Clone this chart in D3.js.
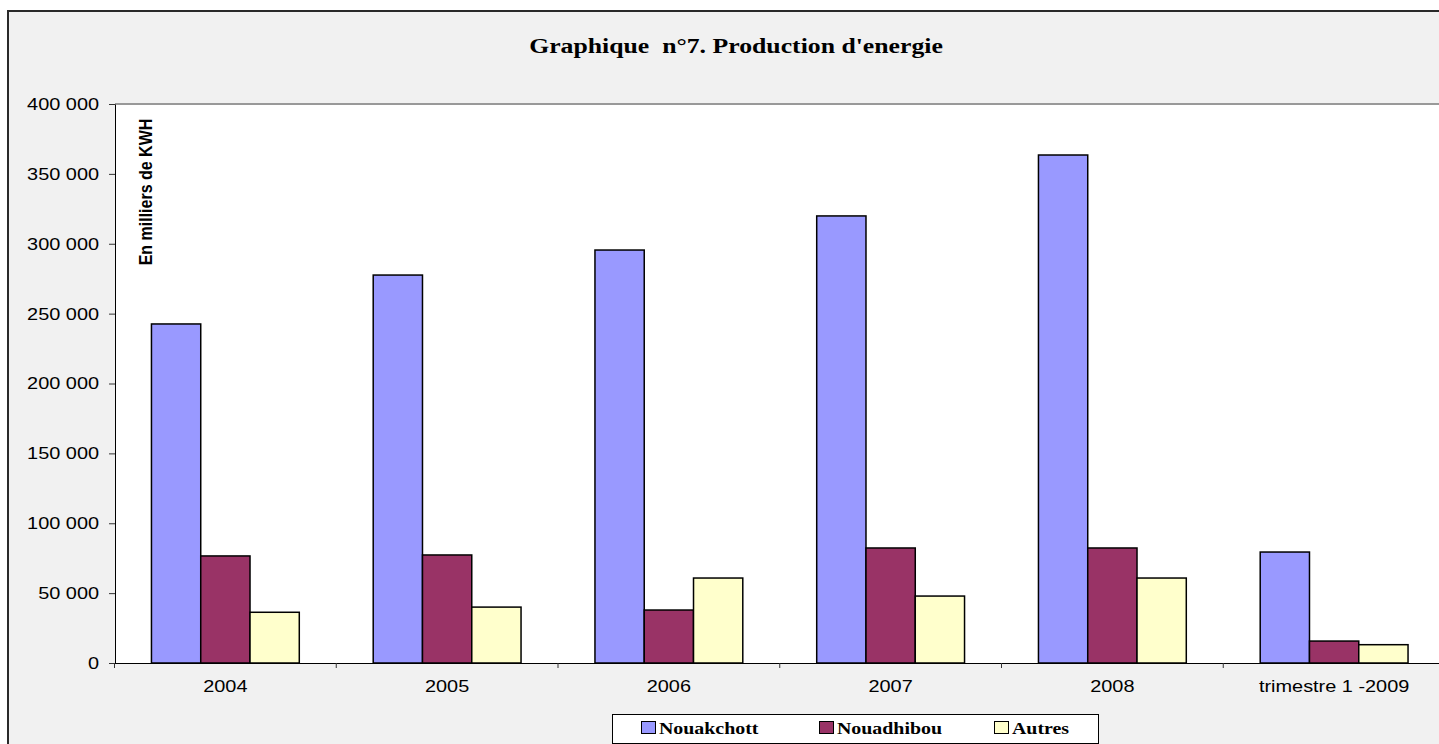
<!DOCTYPE html>
<html lang="fr">
<head>
<meta charset="utf-8">
<title>Production d'energie</title>
<script src="https://d3js.org/d3.v7.min.js"></script>
<style>
  body { margin: 0; background: #fff; }
  .bar { stroke: #000; stroke-width: 1.5px; }
  .sans { font-family: "Liberation Sans", Arial, sans-serif; fill: #000; }
  .serif { font-family: "Liberation Serif", "Times New Roman", serif; font-weight: bold; fill: #000; white-space: pre; }
</style>
</head>
<body>
<svg width="1439" height="744"></svg>
<script>

var categories = ["2004", "2005", "2006", "2007", "2008", "trimestre 1 -2009"];
var series = ["Nouakchott", "Nouadhibou", "Autres"];
var nouakchott = [242600, 277600, 295500, 319900, 363500, 79400];
var nouadhibou = [76600, 77300, 37900, 82300, 82300, 15700];
var autres = [36300, 40000, 60800, 47900, 60800, 13100];
var yTicks = [0, 50000, 100000, 150000, 200000, 250000, 300000, 350000, 400000];

var colors = {"Nouakchott": "#9999ff", "Nouadhibou": "#993366", "Autres": "#ffffcc"};
var values = {"Nouakchott": nouakchott, "Nouadhibou": nouadhibou, "Autres": autres};

// the source picture is stretched a bit horizontally, text included
var SX = 1.17;

var svg = d3.select("svg");

// page background and outer frame
svg.append("rect").attr("x", 8).attr("y", 11).attr("width", 1440).attr("height", 740)
    .attr("fill", "#f1f1f1").attr("stroke", "#2a2a2a").attr("stroke-width", 2);

var plotLeft = 115, plotTop = 104, plotBottom = 663, plotRight = 1445;

// plot area
svg.append("rect").attr("x", plotLeft).attr("y", plotTop)
    .attr("width", plotRight - plotLeft).attr("height", plotBottom - plotTop)
    .attr("fill", "#fff");
svg.append("line").attr("x1", plotLeft).attr("x2", plotRight).attr("y1", plotTop).attr("y2", plotTop)
    .attr("stroke", "#999").attr("stroke-width", 2);

var x0 = d3.scaleBand().domain(categories).range([plotLeft - 0.5, plotRight]);
var bw = x0.bandwidth() / 4.5;   // gap width 150%
var x1 = d3.scaleBand().domain(series).range([bw * 0.75, x0.bandwidth() - bw * 0.75]);
var y = d3.scaleLinear().domain([0, 400000]).range([plotBottom, plotTop]);

var fr = d3.formatLocale({decimal: ",", thousands: " ", grouping: [3], currency: ["", ""]});
var fmt = fr.format(",");

// bars
var groups = svg.append("g").selectAll("g")
  .data(categories)
  .join("g")
    .attr("transform", d => `translate(${x0(d)},0)`);

groups.selectAll("rect")
  .data((c, i) => series.map(s => ({s: s, v: values[s][i]})))
  .join("rect")
    .attr("class", "bar")
    .attr("x", d => x1(d.s))
    .attr("width", x1.bandwidth())
    .attr("y", d => y(d.v))
    .attr("height", d => plotBottom - y(d.v))
    .attr("fill", d => colors[d.s]);

// y axis
var gy = svg.append("g")
    .attr("transform", `translate(${plotLeft},0)`)
    .call(d3.axisLeft(y).tickValues(yTicks).tickFormat(fmt).tickSize(6).tickSizeOuter(0).tickPadding(0));
gy.select(".domain").attr("stroke", "#000");
gy.selectAll(".tick line").attr("stroke", "#333");
gy.selectAll(".tick text")
    .attr("class", "sans")
    .attr("font-size", 17)
    .attr("x", -16 / SX)
    .attr("transform", `scale(${SX},1)`);

// x axis
var gx = svg.append("g")
    .attr("transform", `translate(0,${plotBottom})`)
    .call(d3.axisBottom(x0).tickSize(0).tickSizeOuter(0).tickPadding(17));
gx.select(".domain").attr("stroke", "#000");
gx.selectAll(".tick text")
    .attr("class", "sans")
    .attr("font-size", 17)
    .attr("transform", `scale(${SX},1)`)
    .attr("x", 0);

// category boundary ticks
gx.append("g").selectAll("line")
  .data(categories)
  .join("line")
    .attr("x1", d => x0(d)).attr("x2", d => x0(d))
    .attr("y1", 0).attr("y2", 5)
    .attr("stroke", "#333");

// title
svg.append("text")
    .attr("class", "serif")
    .attr("font-size", 22)
    .attr("text-anchor", "middle")
    .attr("transform", `translate(736,53) scale(${SX},1)`)
    .text("Graphique  n°7. Production d'energie");

// y axis title
svg.append("text")
    .attr("class", "sans")
    .attr("font-weight", "bold")
    .attr("font-size", 16)
    .attr("text-anchor", "middle")
    .attr("transform", `translate(152,192) scale(${SX},1) rotate(-90)`)
    .text("En milliers de KWH");

// legend
var lg = svg.append("g");
lg.append("rect").attr("x", 612.5).attr("y", 714.5).attr("width", 486).attr("height", 29)
    .attr("fill", "#fff").attr("stroke", "#000");
var legendX = [641, 819, 994];
var items = lg.selectAll("g.item")
  .data(series)
  .join("g")
    .attr("class", "item")
    .attr("transform", (d, i) => `translate(${legendX[i]},721)`);
items.append("rect")
    .attr("x", 0.5).attr("y", 0.5).attr("width", 14).attr("height", 12)
    .attr("fill", d => colors[d]).attr("stroke", "#000");
items.append("text")
    .attr("class", "serif")
    .attr("font-size", 17)
    .attr("transform", `translate(18,13) scale(${SX},1)`)
    .text(d => d);

</script>
</body>
</html>
